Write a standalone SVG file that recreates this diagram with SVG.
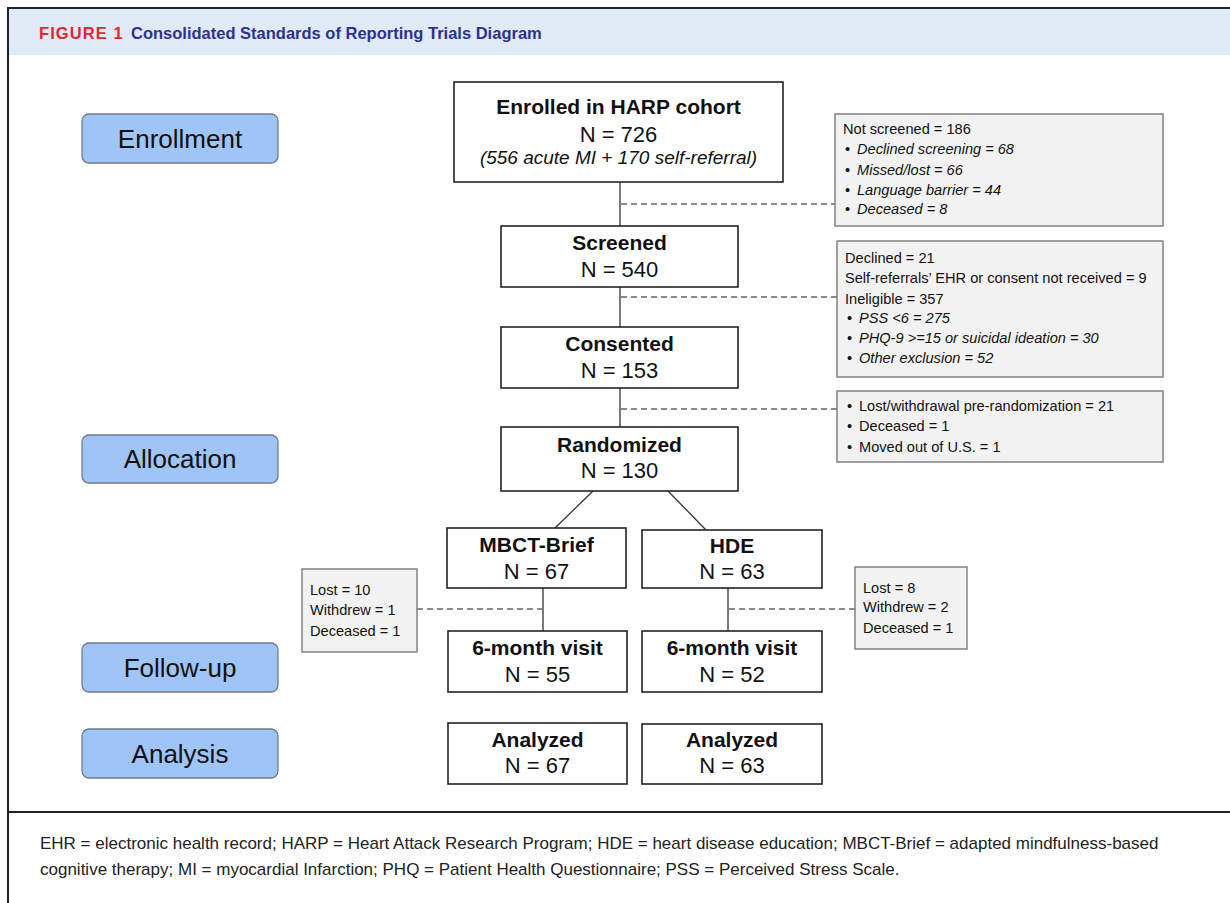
<svg xmlns="http://www.w3.org/2000/svg" width="1230" height="903" viewBox="0 0 1230 903">
<defs>
<style>
text{font-family:"Liberation Sans",Arial,sans-serif;fill:#111}
.frame{stroke:#222;stroke-width:2;fill:none}
.phase rect{fill:#9fc4f6;stroke:#707b88;stroke-width:1.3}
.phase text{font-size:26px;text-anchor:middle}
.box rect{fill:#fff;stroke:#222;stroke-width:1.6}
.box text{text-anchor:middle}
.t{font-size:21px;font-weight:bold}
.n{font-size:22px}
.sub{font-size:19px;font-style:italic}
.gray rect{fill:#f2f2f2;stroke:#7a7a7a;stroke-width:1.4}
.gray text{font-size:14.6px}
.it{font-style:italic}
.solid{stroke:#333;stroke-width:1.3;fill:none}
.dash{stroke:#666;stroke-width:1.3;fill:none;stroke-dasharray:6 4}
.hdr{font-size:16.5px;font-weight:bold}
.foot{font-size:17px;fill:#222}
</style>
</defs>
<rect x="0" y="0" width="1230" height="903" fill="#fff"/>
<g id="frame">
<rect x="8" y="9" width="1222" height="46" fill="#dfeaf6"/>
<line class="frame" x1="7" y1="8" x2="1230" y2="8"/>
<line class="frame" x1="8" y1="7" x2="8" y2="903"/>
<line class="frame" x1="8" y1="812" x2="1230" y2="812"/>
<text x="39" y="39" class="hdr" style="fill:#e3262f;letter-spacing:1.1px">FIGURE 1</text>
<text x="131" y="39" class="hdr" style="fill:#2e3191">Consolidated Standards of Reporting Trials Diagram</text>
</g>
<g id="connectors">
<line class="solid" x1="620" y1="182" x2="620" y2="226"/>
<line class="solid" x1="620" y1="287" x2="620" y2="327"/>
<line class="solid" x1="620" y1="388" x2="620" y2="427"/>
<line class="dash" x1="621" y1="204" x2="835" y2="204"/>
<line class="dash" x1="621" y1="297" x2="837" y2="297"/>
<line class="dash" x1="621" y1="409" x2="837" y2="409"/>
<line class="solid" x1="593" y1="491" x2="555" y2="528"/>
<line class="solid" x1="668" y1="491" x2="706" y2="530"/>
<line class="solid" x1="543" y1="588" x2="543" y2="631"/>
<line class="solid" x1="728" y1="588" x2="728" y2="631"/>
<line class="dash" x1="417" y1="609" x2="542" y2="609"/>
<line class="dash" x1="729" y1="609" x2="855" y2="609"/>
</g>
<g id="phase-enrollment" class="phase"><rect x="82" y="114" width="196" height="49" rx="7"/><text x="180" y="148">Enrollment</text></g>
<g id="phase-allocation" class="phase"><rect x="82" y="435" width="196" height="48" rx="7"/><text x="180" y="468">Allocation</text></g>
<g id="phase-followup" class="phase"><rect x="82" y="643" width="196" height="49" rx="7"/><text x="180" y="677">Follow-up</text></g>
<g id="phase-analysis" class="phase"><rect x="82" y="729" width="196" height="49" rx="7"/><text x="180" y="763">Analysis</text></g>
<g id="enrolled" class="box"><rect x="454" y="82" width="329" height="100"/>
<text x="618.5" y="114" class="t">Enrolled in HARP cohort</text>
<text x="618.5" y="142" class="n">N = 726</text>
<text x="618.5" y="164" class="sub">(556 acute MI + 170 self-referral)</text></g>
<g id="screened" class="box"><rect x="501" y="226" width="237" height="61"/>
<text x="619.5" y="250" class="t">Screened</text><text x="619.5" y="277" class="n">N = 540</text></g>
<g id="consented" class="box"><rect x="501" y="327" width="237" height="61"/>
<text x="619.5" y="351" class="t">Consented</text><text x="619.5" y="378" class="n">N = 153</text></g>
<g id="randomized" class="box"><rect x="501" y="427" width="237" height="64"/>
<text x="619.5" y="452" class="t">Randomized</text><text x="619.5" y="478" class="n">N = 130</text></g>
<g id="mbct" class="box"><rect x="447" y="528" width="179" height="60"/>
<text x="536.5" y="552" class="t">MBCT-Brief</text><text x="536.5" y="579" class="n">N = 67</text></g>
<g id="hde" class="box"><rect x="642" y="530" width="180" height="58"/>
<text x="732" y="553" class="t">HDE</text><text x="732" y="579" class="n">N = 63</text></g>
<g id="visit-mbct" class="box"><rect x="448" y="631" width="179" height="61"/>
<text x="537.5" y="655" class="t">6-month visit</text><text x="537.5" y="682" class="n">N = 55</text></g>
<g id="visit-hde" class="box"><rect x="642" y="631" width="180" height="61"/>
<text x="732" y="655" class="t">6-month visit</text><text x="732" y="682" class="n">N = 52</text></g>
<g id="analyzed-mbct" class="box"><rect x="448" y="723" width="179" height="61"/>
<text x="537.5" y="747" class="t">Analyzed</text><text x="537.5" y="773" class="n">N = 67</text></g>
<g id="analyzed-hde" class="box"><rect x="642" y="724" width="180" height="60"/>
<text x="732" y="747" class="t">Analyzed</text><text x="732" y="773" class="n">N = 63</text></g>
<g id="not-screened" class="gray"><rect x="835" y="114" width="328" height="112"/>
<text x="843" y="134">Not screened = 186</text>
<text x="845" y="154">•</text><text x="857" y="154" class="it">Declined screening = 68</text>
<text x="845" y="175">•</text><text x="857" y="175" class="it">Missed/lost = 66</text>
<text x="845" y="195">•</text><text x="857" y="195" class="it">Language barrier = 44</text>
<text x="845" y="214">•</text><text x="857" y="214" class="it">Deceased = 8</text></g>
<g id="excluded" class="gray"><rect x="837" y="241" width="326" height="136"/>
<text x="845" y="263">Declined = 21</text>
<text x="845" y="283">Self-referrals’ EHR or consent not received = 9</text>
<text x="845" y="304">Ineligible = 357</text>
<text x="847" y="323">•</text><text x="859" y="323" class="it">PSS &lt;6 = 275</text>
<text x="847" y="343">•</text><text x="859" y="343" class="it">PHQ-9 &gt;=15 or suicidal ideation = 30</text>
<text x="847" y="363">•</text><text x="859" y="363" class="it">Other exclusion = 52</text></g>
<g id="pre-random" class="gray"><rect x="837" y="391" width="326" height="71"/>
<text x="847" y="411">•</text><text x="859" y="411">Lost/withdrawal pre-randomization = 21</text>
<text x="847" y="431">•</text><text x="859" y="431">Deceased = 1</text>
<text x="847" y="452">•</text><text x="859" y="452">Moved out of U.S. = 1</text></g>
<g id="lost-mbct" class="gray"><rect x="302" y="569" width="115" height="83"/>
<text x="310" y="595">Lost = 10</text><text x="310" y="615">Withdrew = 1</text><text x="310" y="636">Deceased = 1</text></g>
<g id="lost-hde" class="gray"><rect x="855" y="567" width="112" height="82"/>
<text x="863" y="593">Lost = 8</text><text x="863" y="612">Withdrew = 2</text><text x="863" y="633">Deceased = 1</text></g>
<g id="footnote">
<text x="40" y="849" class="foot">EHR = electronic health record; HARP = Heart Attack Research Program; HDE = heart disease education; MBCT-Brief = adapted mindfulness-based</text>
<text x="40" y="875" class="foot">cognitive therapy; MI = myocardial Infarction; PHQ = Patient Health Questionnaire; PSS = Perceived Stress Scale.</text>
</g>
</svg>
